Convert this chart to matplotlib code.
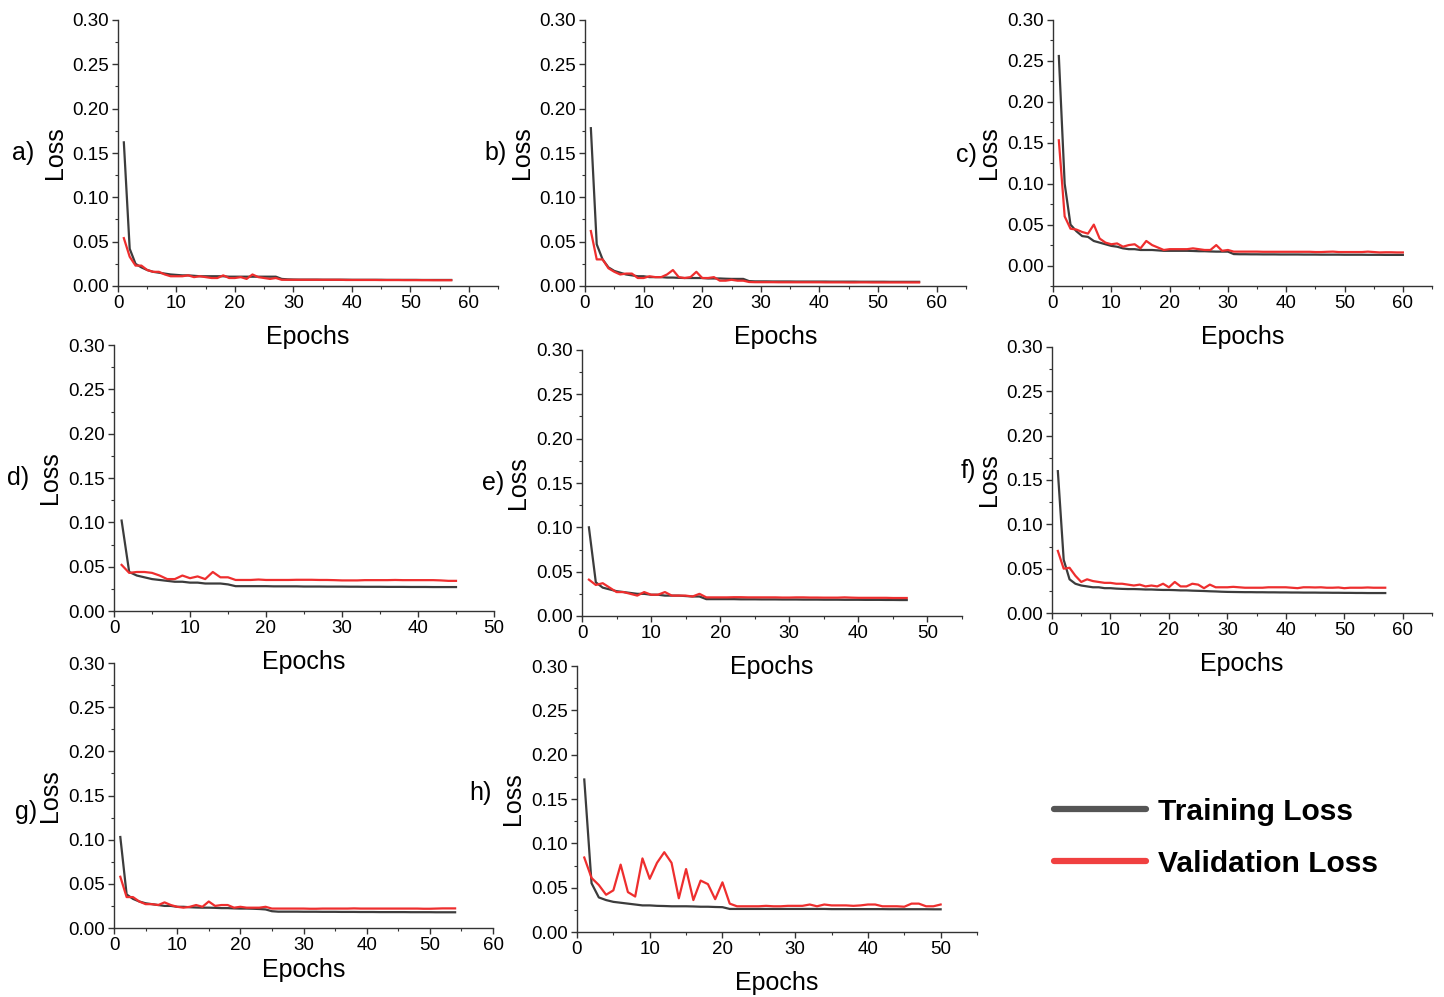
import matplotlib
matplotlib.use("Agg")
import matplotlib.pyplot as plt
from matplotlib.lines import Line2D
from matplotlib.ticker import MultipleLocator, FormatStrFormatter

plt.rcParams['font.family'] = ['Liberation Sans', 'DejaVu Sans']

# ---------------- data ----------------
a_train = [0.162, 0.042, 0.025, 0.021, 0.018, 0.016, 0.015, 0.014, 0.013, 0.0125,
           0.012, 0.012, 0.0115, 0.011, 0.011, 0.011, 0.011, 0.011, 0.0105, 0.0105,
           0.0105, 0.0105, 0.0105, 0.0105, 0.0105, 0.0105, 0.0105, 0.008, 0.0075, 0.0073,
           0.0072, 0.0072, 0.0072, 0.0072, 0.0071, 0.0071, 0.0071, 0.0071, 0.0071, 0.0070,
           0.0070, 0.0070, 0.0070, 0.0070, 0.0070, 0.0069, 0.0069, 0.0069, 0.0069, 0.0069,
           0.0069, 0.0068, 0.0068, 0.0068, 0.0068, 0.0068, 0.0068]
a_val = [0.054, 0.033, 0.023, 0.023, 0.018, 0.016, 0.016, 0.013, 0.011, 0.011,
         0.011, 0.012, 0.010, 0.011, 0.010, 0.009, 0.009, 0.012, 0.009, 0.009,
         0.010, 0.008, 0.013, 0.010, 0.009, 0.008, 0.009, 0.007, 0.007, 0.007,
         0.007, 0.007, 0.007, 0.007, 0.007, 0.007, 0.007, 0.007, 0.0068, 0.0068,
         0.0068, 0.0068, 0.0068, 0.0068, 0.0067, 0.0067, 0.0067, 0.0067, 0.0066, 0.0066,
         0.0066, 0.0066, 0.0066, 0.0065, 0.0065, 0.0065, 0.0065]

b_train = [0.178, 0.047, 0.030, 0.021, 0.017, 0.015, 0.013, 0.012, 0.011, 0.011,
           0.010, 0.010, 0.010, 0.0095, 0.0095, 0.0092, 0.009, 0.009, 0.009, 0.009,
           0.0085, 0.0085, 0.0085, 0.0082, 0.008, 0.008, 0.008, 0.0055, 0.0052, 0.0052,
           0.0052, 0.0051, 0.0051, 0.0051, 0.0051, 0.0050, 0.0050, 0.0050, 0.0050, 0.0050,
           0.0050, 0.0049, 0.0049, 0.0049, 0.0049, 0.0049, 0.0048, 0.0048, 0.0048, 0.0048,
           0.0048, 0.0047, 0.0047, 0.0047, 0.0047, 0.0047, 0.0047]
b_val = [0.062, 0.030, 0.030, 0.020, 0.016, 0.013, 0.014, 0.014, 0.009, 0.009,
         0.011, 0.010, 0.010, 0.013, 0.018, 0.010, 0.009, 0.010, 0.016, 0.009,
         0.009, 0.010, 0.006, 0.006, 0.007, 0.006, 0.006, 0.0045, 0.0043, 0.0043,
         0.0043, 0.0043, 0.0042, 0.0042, 0.0042, 0.0042, 0.0042, 0.0042, 0.0042, 0.0042,
         0.0041, 0.0041, 0.0041, 0.0041, 0.0040, 0.0040, 0.0041, 0.0041, 0.0040, 0.0040,
         0.0040, 0.0040, 0.0040, 0.0040, 0.0040, 0.0040, 0.0040]

c_train = [0.256, 0.100, 0.050, 0.042, 0.036, 0.035, 0.030, 0.028, 0.026, 0.024,
           0.023, 0.021, 0.020, 0.020, 0.019, 0.019, 0.019, 0.0185, 0.018, 0.018,
           0.018, 0.018, 0.018, 0.0178, 0.0175, 0.0175, 0.0172, 0.017, 0.017, 0.017,
           0.014, 0.0138, 0.0138, 0.0137, 0.0137, 0.0136, 0.0136, 0.0136, 0.0135, 0.0135,
           0.0135, 0.0135, 0.0134, 0.0134, 0.0134, 0.0133, 0.0133, 0.0133, 0.0133, 0.0132,
           0.0132, 0.0132, 0.0132, 0.0131, 0.0131, 0.0131, 0.013, 0.013, 0.013, 0.013]
c_val = [0.153, 0.060, 0.045, 0.044, 0.041, 0.039, 0.050, 0.033, 0.028, 0.026,
         0.027, 0.023, 0.025, 0.026, 0.021, 0.030, 0.025, 0.022, 0.019, 0.020,
         0.020, 0.020, 0.020, 0.021, 0.020, 0.019, 0.019, 0.025, 0.018, 0.019,
         0.017, 0.017, 0.017, 0.017, 0.017, 0.0168, 0.0168, 0.0168, 0.0168, 0.0168,
         0.0168, 0.0168, 0.0168, 0.0168, 0.0165, 0.0165, 0.0168, 0.017, 0.0165, 0.0165,
         0.0165, 0.0165, 0.0165, 0.017, 0.0165, 0.016, 0.0162, 0.0162, 0.016, 0.016]

d_train = [0.102, 0.044, 0.040, 0.038, 0.036, 0.035, 0.034, 0.033, 0.033, 0.032,
           0.032, 0.031, 0.031, 0.031, 0.030, 0.028, 0.028, 0.028, 0.028, 0.028,
           0.0278, 0.0278, 0.0278, 0.0278, 0.0276, 0.0276, 0.0276, 0.0275, 0.0275, 0.0275,
           0.0274, 0.0274, 0.0273, 0.0273, 0.0273, 0.0272, 0.0272, 0.0272, 0.0271, 0.0271,
           0.0271, 0.027, 0.027, 0.027, 0.027]
d_val = [0.052, 0.043, 0.044, 0.044, 0.043, 0.040, 0.036, 0.036, 0.040, 0.037,
         0.039, 0.036, 0.044, 0.038, 0.038, 0.035, 0.035, 0.035, 0.0355, 0.035,
         0.035, 0.035, 0.035, 0.0352, 0.0352, 0.0352, 0.035, 0.035, 0.0348, 0.0345,
         0.0345, 0.0345, 0.0348, 0.0348, 0.0348, 0.0348, 0.035, 0.0348, 0.0348, 0.0348,
         0.0348, 0.0348, 0.0345, 0.034, 0.034]

e_train = [0.100, 0.038, 0.032, 0.030, 0.028, 0.027, 0.026, 0.025, 0.025, 0.024,
           0.024, 0.023, 0.023, 0.023, 0.0225, 0.022, 0.022, 0.019, 0.019, 0.019,
           0.019, 0.019, 0.0188, 0.0188, 0.0188, 0.0187, 0.0187, 0.0187, 0.0186, 0.0186,
           0.0186, 0.0185, 0.0185, 0.0185, 0.0184, 0.0184, 0.0184, 0.0183, 0.0183, 0.0183,
           0.0182, 0.0182, 0.0182, 0.0181, 0.0181, 0.018, 0.018]
e_val = [0.041, 0.035, 0.037, 0.032, 0.027, 0.027, 0.025, 0.023, 0.027, 0.024,
         0.024, 0.027, 0.023, 0.023, 0.023, 0.022, 0.025, 0.021, 0.021, 0.021,
         0.021, 0.0212, 0.0212, 0.021, 0.021, 0.021, 0.021, 0.021, 0.0208, 0.0208,
         0.021, 0.021, 0.0208, 0.0208, 0.0207, 0.0207, 0.0207, 0.021, 0.0207, 0.0205,
         0.0205, 0.0205, 0.0205, 0.0205, 0.0203, 0.0203, 0.0203]

f_train = [0.160, 0.060, 0.038, 0.033, 0.031, 0.030, 0.029, 0.029, 0.028, 0.028,
           0.0275, 0.0272, 0.027, 0.027, 0.0268, 0.0265, 0.0265, 0.0262, 0.026, 0.026,
           0.0258, 0.0255, 0.0255, 0.0252, 0.025, 0.0248, 0.0245, 0.0243, 0.024, 0.0238,
           0.0237, 0.0236, 0.0235, 0.0235, 0.0234, 0.0234, 0.0233, 0.0233, 0.0232, 0.0232,
           0.0231, 0.0231, 0.023, 0.023, 0.023, 0.0229, 0.0229, 0.0228, 0.0228, 0.0227,
           0.0227, 0.0226, 0.0226, 0.0225, 0.0225, 0.0225, 0.0225]
f_val = [0.070, 0.050, 0.051, 0.042, 0.035, 0.038, 0.036, 0.035, 0.034, 0.034,
         0.033, 0.033, 0.032, 0.031, 0.032, 0.030, 0.031, 0.030, 0.033, 0.029,
         0.035, 0.030, 0.030, 0.033, 0.032, 0.028, 0.032, 0.029, 0.029, 0.029,
         0.0295, 0.029, 0.0285, 0.0285, 0.0285, 0.0285, 0.029, 0.029, 0.029, 0.029,
         0.0285, 0.028, 0.029, 0.029, 0.0288, 0.029, 0.0285, 0.0285, 0.0288, 0.028,
         0.0285, 0.0285, 0.0285, 0.0288, 0.0285, 0.0285, 0.0285]

g_train = [0.103, 0.038, 0.033, 0.030, 0.028, 0.027, 0.026, 0.025, 0.025, 0.024,
           0.024, 0.0235, 0.0232, 0.023, 0.023, 0.0228, 0.0225, 0.0225, 0.0222, 0.022,
           0.022, 0.0218, 0.0215, 0.021, 0.019, 0.0185, 0.0185, 0.0185, 0.0185, 0.0184,
           0.0184, 0.0184, 0.0183, 0.0183, 0.0183, 0.0182, 0.0182, 0.0182, 0.0181, 0.0181,
           0.0181, 0.018, 0.018, 0.018, 0.018, 0.018, 0.0179, 0.0179, 0.0179, 0.0179,
           0.0178, 0.0178, 0.0178, 0.0178]
g_val = [0.058, 0.035, 0.035, 0.030, 0.027, 0.027, 0.026, 0.029, 0.026, 0.024,
         0.023, 0.024, 0.026, 0.024, 0.030, 0.025, 0.026, 0.026, 0.023, 0.024,
         0.023, 0.023, 0.023, 0.024, 0.022, 0.022, 0.022, 0.022, 0.022, 0.022,
         0.0218, 0.0218, 0.022, 0.022, 0.022, 0.022, 0.022, 0.0222, 0.022, 0.022,
         0.022, 0.022, 0.022, 0.022, 0.022, 0.022, 0.022, 0.022, 0.0218, 0.0218,
         0.022, 0.0222, 0.0222, 0.0222]

h_train = [0.172, 0.055, 0.039, 0.036, 0.034, 0.033, 0.032, 0.031, 0.030, 0.030,
           0.0295, 0.0293, 0.029, 0.029, 0.029, 0.0288, 0.0285, 0.0285, 0.0282, 0.028,
           0.026, 0.026, 0.026, 0.026, 0.026, 0.026, 0.026, 0.026, 0.026, 0.026,
           0.026, 0.026, 0.026, 0.026, 0.0258, 0.0258, 0.0258, 0.0258, 0.0258, 0.0258,
           0.0258, 0.0258, 0.0257, 0.0257, 0.0257, 0.0257, 0.0257, 0.0257, 0.0256, 0.0256]
h_val = [0.084, 0.061, 0.053, 0.042, 0.047, 0.076, 0.045, 0.040, 0.083, 0.060,
         0.078, 0.090, 0.078, 0.038, 0.071, 0.036, 0.058, 0.054, 0.037, 0.056,
         0.032, 0.029, 0.029, 0.029, 0.029, 0.0295, 0.029, 0.029, 0.0295, 0.0295,
         0.0295, 0.031, 0.029, 0.031, 0.030, 0.030, 0.030, 0.0295, 0.030, 0.031,
         0.031, 0.029, 0.029, 0.029, 0.0285, 0.032, 0.032, 0.029, 0.029, 0.031]

panel_letters = ['a)', 'b)', 'c)', 'd)', 'e)', 'f)', 'g)', 'h)']
series_train = [a_train, b_train, c_train, d_train, e_train, f_train, g_train, h_train]
series_val = [a_val, b_val, c_val, d_val, e_val, f_val, g_val, h_val]
x_limits = [65, 65, 65, 50, 55, 65, 60, 55]
y_bottoms = [0.0, 0.0, -0.025, 0.0, 0.0, 0.0, 0.0, 0.0]
legend_labels = ['Training Loss', 'Validation Loss']

# ---------------- layout (pixels) ----------------
W, H = 1444, 997
# (x0, x1, ytop, ybottom) for each panel
boxes = [(118, 498, 20, 286), (585, 966, 20, 286), (1053, 1432, 20, 286),
         (114, 494, 345, 611), (582, 962, 350, 616), (1052, 1432, 347, 613),
         (114, 493, 663, 928), (577, 977, 666, 932)]
loss_x = [55, 522, 989, 50, 518, 989, 50, 513]
epoch_y = [337, 337, 337, 662, 667, 664, 970, 983]
letter_pos = [(23, 153), (496, 153), (966, 155), (18, 478), (493, 483), (968, 471),
              (26, 812), (480, 793)]

TRAIN_C = '#3c3c3c'
VAL_C = '#ee2e2e'
AX_C = '#333333'

fig = plt.figure(figsize=(W / 100, H / 100), dpi=100)

for i in range(8):
    x0, x1, yt, yb = boxes[i]
    ax = fig.add_axes([x0 / W, 1 - yb / H, (x1 - x0) / W, (yb - yt) / H])
    ax.patch.set_visible(False)
    ep_t = list(range(1, len(series_train[i]) + 1))
    ep_v = list(range(1, len(series_val[i]) + 1))
    ax.plot(ep_t, series_train[i], color=TRAIN_C, lw=1.6, zorder=2)
    ax.plot(ep_v, series_val[i], color=VAL_C, lw=1.6, zorder=3)
    ax.set_xlim(0, x_limits[i])
    ax.set_ylim(y_bottoms[i], 0.30)
    ax.xaxis.set_major_locator(MultipleLocator(10))
    ax.xaxis.set_minor_locator(MultipleLocator(5))
    ax.yaxis.set_major_locator(MultipleLocator(0.05))
    ax.yaxis.set_minor_locator(MultipleLocator(0.025))
    ax.yaxis.set_major_formatter(FormatStrFormatter('%.2f'))
    for s in ['top', 'right']:
        ax.spines[s].set_visible(False)
    for s in ['left', 'bottom']:
        ax.spines[s].set_color(AX_C)
        ax.spines[s].set_linewidth(1.0)
    ax.tick_params(which='major', direction='out', length=4.5, width=1.0,
                   color=AX_C, labelsize=13.5, pad=2)
    ax.tick_params(which='minor', direction='out', length=2.5, width=0.8, color=AX_C)
    ax.set_xlabel('Epochs', fontsize=18)
    ax.set_ylabel('Loss', fontsize=18)
    ax.xaxis.label.set_va('center')
    ax.yaxis.label.set_va('center')
    ax.xaxis.set_label_coords(0.5, (yb - epoch_y[i]) / (yb - yt))
    ax.yaxis.set_label_coords((loss_x[i] - x0) / (x1 - x0), 0.5)
    lx, ly = letter_pos[i]
    fig.text(lx / W, 1 - ly / H, panel_letters[i], fontsize=18, ha='center', va='center')

# legend drawn manually at figure level
leg_rows = [(809, '#555555'), (861, '#f04040')]
for (yy, lc), lab in zip(leg_rows, legend_labels):
    fig.add_artist(Line2D([1054 / W, 1146 / W], [1 - yy / H, 1 - yy / H],
                          color=lc, lw=4.5, solid_capstyle='round',
                          transform=fig.transFigure))
    fig.text(1158 / W, 1 - (yy + 3) / H, lab, fontsize=21.6, fontweight='bold',
             ha='left', va='center')

fig.savefig('out.png', dpi=100)
